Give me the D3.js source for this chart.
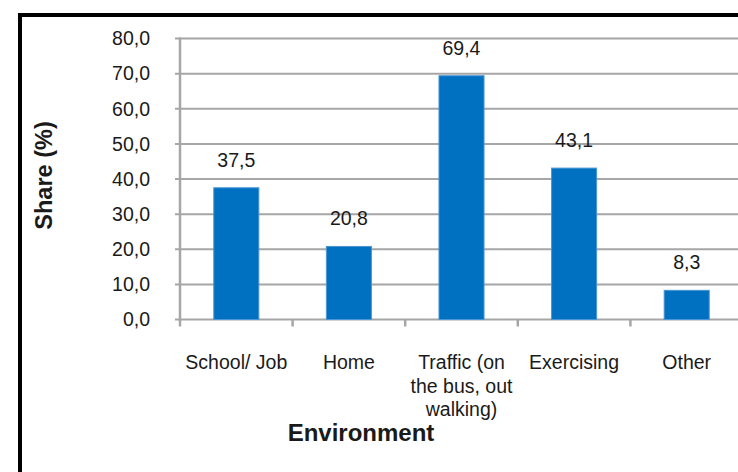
<!DOCTYPE html>
<html>
<head>
<meta charset="utf-8">
<script src="https://cdn.jsdelivr.net/npm/d3@7"></script>
<style>
  html, body { margin: 0; padding: 0; background: #fff; }
  svg { display: block; }
  text { font-family: "Liberation Sans", Arial, Helvetica, sans-serif; fill: #1a1a1a; }
</style>
</head>
<body>
<svg id="chart" width="738" height="472"></svg>
<script>
const categories = ["School/ Job", "Home", "Traffic (on the bus, out walking)", "Exercising", "Other"];
const values = [37.5, 20.8, 69.4, 43.1, 8.3];
const yTicks = [0, 10, 20, 30, 40, 50, 60, 70, 80];
const yTitle = "Share (%)";
const xTitle = "Environment";

const svg = d3.select("#chart");
const W = 738, H = 472;
const plot = { left: 180, right: 743, top: 38.5, bottom: 319.5 };

const locale = d3.formatLocale({ decimal: ",", thousands: ".", grouping: [3], currency: ["", ""] });
const fmt = locale.format(".1f");

const x = d3.scaleBand().domain(categories).range([plot.left, plot.right]).paddingInner(0.6).paddingOuter(0.3);
const y = d3.scaleLinear().domain([0, 80]).range([plot.bottom, plot.top]);

// frame
svg.append("path")
  .attr("d", `M20,${H + 5} L20,15 L${W + 5},15`)
  .attr("fill", "none").attr("stroke", "#000").attr("stroke-width", 4);

// gridlines
svg.append("g").selectAll("line").data(yTicks).join("line")
  .attr("x1", plot.left - 5).attr("x2", W + 5)
  .attr("y1", d => y(d)).attr("y2", d => y(d))
  .attr("stroke", "#a6a6a6").attr("stroke-width", 2);

// y axis line
svg.append("line")
  .attr("x1", plot.left).attr("x2", plot.left)
  .attr("y1", y(80) - 1).attr("y2", y(0) + 1)
  .attr("stroke", "#a6a6a6").attr("stroke-width", 2.5);

// y tick labels
const yAxis = d3.axisLeft(y).tickValues(yTicks).tickFormat(fmt).tickSize(0).tickPadding(30);
const gy = svg.append("g").attr("transform", `translate(${plot.left},0)`).call(yAxis);
gy.select(".domain").remove();
gy.selectAll("text").attr("font-size", 19.5).attr("fill", "#1a1a1a")
  .style("font-family", '"Liberation Sans", Arial, sans-serif');

// x axis ticks at category boundaries
const step = x.step();
const bounds = categories.map(c => x(c) - (step - x.bandwidth()) / 2);
svg.append("g").selectAll("line").data(bounds).join("line")
  .attr("x1", d => d).attr("x2", d => d)
  .attr("y1", y(0)).attr("y2", y(0) + 7)
  .attr("stroke", "#a6a6a6").attr("stroke-width", 2.5);

// bars
svg.append("g").selectAll("rect").data(values).join("rect")
  .attr("x", (d, i) => x(categories[i]))
  .attr("width", x.bandwidth())
  .attr("y", d => y(d))
  .attr("height", d => y(0) - y(d))
  .attr("fill", "#0070c0")
  .attr("stroke", "#4a95d6").attr("stroke-width", 1);

// value labels
svg.append("g").selectAll("text").data(values).join("text")
  .attr("x", (d, i) => x(categories[i]) + x.bandwidth() / 2)
  .attr("y", d => y(d) - 21)
  .attr("text-anchor", "middle").attr("font-size", 19.5)
  .text(d => fmt(d));

// category labels (wrapped)
function wrapLines(text, maxW, fontSize) {
  const tmp = svg.append("text").attr("font-size", fontSize);
  const words = text.split(" ");
  const lines = [];
  let cur = "";
  words.forEach(w => {
    const trial = cur ? cur + " " + w : w;
    tmp.text(trial);
    if (tmp.node().getComputedTextLength() > maxW && cur) {
      lines.push(cur); cur = w;
    } else cur = trial;
  });
  if (cur) lines.push(cur);
  tmp.remove();
  return lines;
}
const gx = svg.append("g");
categories.forEach(c => {
  const lines = wrapLines(c, step - 2, 19.5);
  const t = gx.append("text")
    .attr("x", x(c) + x.bandwidth() / 2)
    .attr("y", 369)
    .attr("text-anchor", "middle").attr("font-size", 19.5);
  lines.forEach((l, i) => {
    t.append("tspan").attr("x", x(c) + x.bandwidth() / 2).attr("dy", i === 0 ? 0 : 23.5).text(l);
  });
});

// axis titles
svg.append("text")
  .attr("x", 361).attr("y", 441)
  .attr("text-anchor", "middle").attr("font-size", 24).attr("font-weight", "bold")
  .attr("fill", "#000")
  .text(xTitle);

svg.append("text")
  .attr("transform", `translate(52,175.5) rotate(-90)`)
  .attr("text-anchor", "middle").attr("font-size", 23.5).attr("font-weight", "bold")
  .attr("fill", "#000")
  .text(yTitle);
</script>
</body>
</html>
